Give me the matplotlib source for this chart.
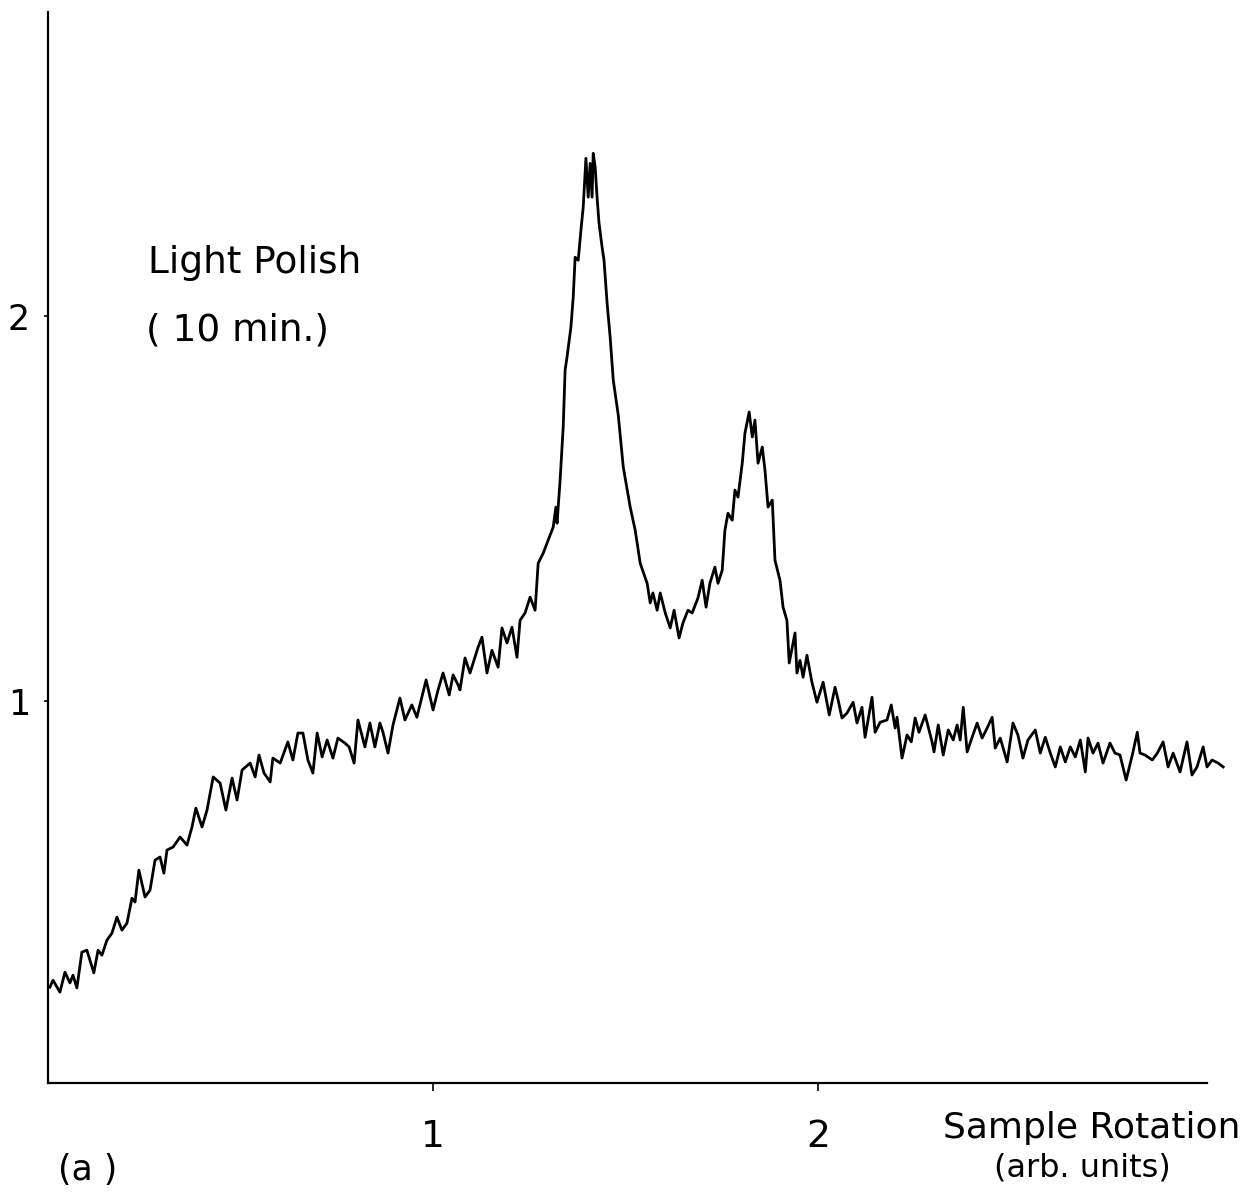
import numpy as np
import matplotlib
matplotlib.use("Agg")
import matplotlib.pyplot as plt

# Intensidade (unidades arbitrárias)
rotation = [
    0.005, 0.013, 0.031, 0.044, 0.057, 0.065, 0.075, 0.088, 0.101, 0.109,
    0.119, 0.130, 0.140, 0.153, 0.166, 0.179, 0.192, 0.205, 0.218, 0.226,
    0.236, 0.252, 0.265, 0.278, 0.291, 0.301, 0.309, 0.325, 0.343, 0.361,
    0.374, 0.384, 0.400, 0.413, 0.429, 0.447, 0.462, 0.478, 0.491, 0.504,
    0.525, 0.538, 0.548, 0.561, 0.577, 0.584, 0.603, 0.623, 0.636, 0.649,
    0.662, 0.675, 0.688, 0.699, 0.712, 0.725, 0.740, 0.753, 0.771, 0.782,
    0.795, 0.805, 0.823, 0.836, 0.849, 0.862, 0.870, 0.883, 0.896, 0.914,
    0.927, 0.945, 0.958, 0.982, 1.000, 1.013, 1.026, 1.042, 1.052, 1.065,
    1.070, 1.083, 1.096, 1.117, 1.127, 1.140, 1.153, 1.169, 1.179, 1.192,
    1.205, 1.218, 1.226, 1.239, 1.252, 1.265, 1.270, 1.273, 1.286, 1.299,
    1.312, 1.319, 1.322, 1.330, 1.338, 1.343, 1.348, 1.358, 1.364, 1.369,
    1.377, 1.384, 1.390, 1.397, 1.403, 1.408, 1.413, 1.416, 1.421, 1.426,
    1.431, 1.439, 1.444, 1.452, 1.460, 1.468, 1.481, 1.494, 1.512, 1.525,
    1.538, 1.556, 1.564, 1.571, 1.582, 1.590, 1.603, 1.616, 1.626, 1.639,
    1.649, 1.662, 1.673, 1.688, 1.699, 1.709, 1.719, 1.732, 1.740, 1.751,
    1.758, 1.766, 1.777, 1.784, 1.792, 1.803, 1.810, 1.821, 1.829, 1.836,
    1.844, 1.855, 1.862, 1.870, 1.881, 1.888, 1.901, 1.909, 1.919, 1.925,
    1.940, 1.945, 1.953, 1.961, 1.971, 1.984, 1.997,
    2.013, 2.029, 2.044, 2.052, 2.062, 2.075, 2.091, 2.101, 2.114, 2.122,
    2.140, 2.148, 2.161, 2.179, 2.190, 2.200, 2.205, 2.218, 2.231, 2.242,
    2.252, 2.262, 2.278, 2.296, 2.301, 2.312, 2.325, 2.338, 2.351, 2.361,
    2.369, 2.377, 2.387, 2.400, 2.413, 2.426, 2.439, 2.452, 2.460, 2.473,
    2.491, 2.506, 2.519, 2.532, 2.545, 2.564, 2.577, 2.590, 2.603, 2.616,
    2.629, 2.642, 2.655, 2.668, 2.681, 2.694, 2.701, 2.714, 2.727, 2.740,
    2.758, 2.771, 2.784, 2.800, 2.816, 2.829, 2.836, 2.849, 2.868, 2.881,
    2.896, 2.909, 2.922, 2.940, 2.958, 2.971, 2.984, 3.000, 3.010, 3.023,
    3.039, 3.052,
]
intensity = [
    0.257, 0.275, 0.244, 0.296, 0.268, 0.288, 0.255, 0.348, 0.353, 0.327,
    0.294, 0.353, 0.340, 0.379, 0.397, 0.439, 0.405, 0.423, 0.488, 0.478,
    0.561, 0.491, 0.509, 0.587, 0.595, 0.553, 0.613, 0.621, 0.647, 0.626,
    0.673, 0.722, 0.673, 0.717, 0.803, 0.787, 0.717, 0.800, 0.743, 0.821,
    0.839, 0.803, 0.860, 0.813, 0.790, 0.852, 0.839, 0.894, 0.847, 0.917,
    0.917, 0.847, 0.813, 0.917, 0.855, 0.899, 0.852, 0.904, 0.891, 0.881,
    0.839, 0.951, 0.881, 0.943, 0.881, 0.943, 0.919, 0.865, 0.938, 1.008,
    0.951, 0.990, 0.958, 1.055, 0.977, 1.029, 1.073, 1.016, 1.068, 1.042,
    1.029, 1.112, 1.073, 1.140, 1.166, 1.073, 1.132, 1.088, 1.190, 1.151,
    1.192, 1.114, 1.210, 1.229, 1.270, 1.236, 1.314, 1.358, 1.384, 1.418,
    1.452, 1.504, 1.462, 1.574, 1.712, 1.860, 1.894, 1.971, 2.049, 2.153,
    2.145, 2.223, 2.283, 2.410, 2.309, 2.397, 2.309, 2.423, 2.387, 2.309,
    2.242, 2.179, 2.145, 2.034, 1.945, 1.834, 1.743, 1.608, 1.504, 1.444,
    1.358, 1.306, 1.255, 1.281, 1.236, 1.281, 1.229, 1.190, 1.236, 1.164,
    1.203, 1.236, 1.229, 1.268, 1.314, 1.244, 1.306, 1.348, 1.306, 1.340,
    1.444, 1.488, 1.470, 1.548, 1.530, 1.618, 1.696, 1.751, 1.686, 1.730,
    1.618, 1.660, 1.600, 1.504, 1.522, 1.366, 1.314, 1.244, 1.210, 1.099,
    1.177, 1.073, 1.106, 1.062, 1.119, 1.049, 0.997,
    1.049, 0.964, 1.036, 1.003, 0.956, 0.969, 0.997, 0.943, 0.984, 0.906,
    1.010, 0.919, 0.945, 0.951, 0.990, 0.930, 0.958, 0.852, 0.912, 0.894,
    0.956, 0.919, 0.964, 0.894, 0.868, 0.938, 0.860, 0.925, 0.899, 0.938,
    0.899, 0.984, 0.868, 0.906, 0.943, 0.904, 0.930, 0.958, 0.878, 0.904,
    0.842, 0.943, 0.912, 0.852, 0.899, 0.925, 0.865, 0.906, 0.865, 0.829,
    0.881, 0.842, 0.881, 0.855, 0.899, 0.816, 0.904, 0.865, 0.891, 0.839,
    0.891, 0.865, 0.860, 0.795, 0.860, 0.919, 0.865, 0.860, 0.847, 0.865,
    0.894, 0.829, 0.865, 0.816, 0.894, 0.808, 0.829, 0.881, 0.829, 0.847,
    0.839, 0.829,
]

W, H = 1254, 1198
fig = plt.figure(figsize=(W / 100, H / 100), dpi=100)
ax = fig.add_axes([48 / W, 1 - 1083 / H, (1207 - 48) / W, (1083 - 12) / H])

ax.plot(rotation, intensity, color="black", linewidth=2.0, clip_on=False)

ax.set_xlim(0, 3.01)
ax.set_ylim(0.008, 2.79)
ax.spines["top"].set_visible(False)
ax.spines["right"].set_visible(False)
ax.spines["left"].set_linewidth(1.6)
ax.spines["bottom"].set_linewidth(1.6)

ax.set_xticks([1, 2])
ax.set_yticks([1, 2])
ax.set_xticklabels(["1", "2"])
ax.set_yticklabels(["1", "2"])
ax.tick_params(axis="x", direction="out", length=6, width=1.2, pad=20, labelsize=27)
ax.tick_params(axis="y", direction="out", length=3, width=1.2, pad=10, labelsize=25)

fig.text(148 / W, 1 - 263 / H, "Light Polish", fontsize=27, va="center", ha="left")
fig.text(146 / W, 1 - 330 / H, "( 10 min.)", fontsize=27, va="center", ha="left")
fig.text(1092 / W, 1 - 1128 / H, "Sample Rotation", fontsize=26, va="center", ha="center")
fig.text(1082 / W, 1 - 1168 / H, "(arb. units)", fontsize=23, va="center", ha="center")
fig.text(88 / W, 1 - 1170 / H, "(a )", fontsize=25, va="center", ha="center")

fig.savefig("out.png", dpi=100)
